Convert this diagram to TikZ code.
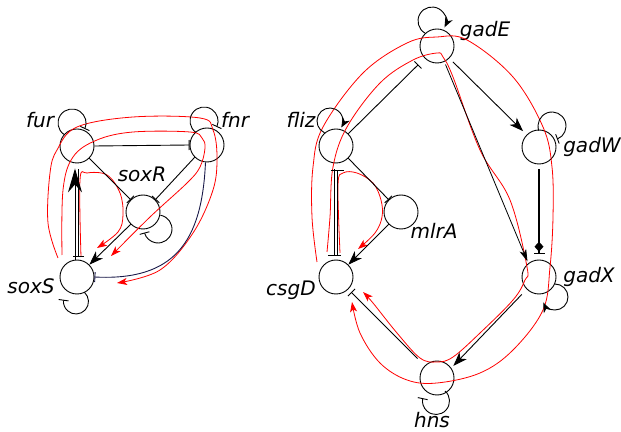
\documentclass[tikz,border=0pt]{standalone}
\usepackage{fontspec}
\setmainfont{DejaVu Sans}
\usetikzlibrary{arrows.meta}
\definecolor{navy}{RGB}{24,24,72}
\begin{document}
\begin{tikzpicture}[x=1pt,y=1pt,
  gene/.style={circle, draw, line width=0.9pt, minimum size=34pt, inner sep=0pt},
  lbl/.style={font=\fontsize{20}{24}\selectfont\itshape, inner sep=0pt, anchor=base},
  edge/.style={line width=0.9pt},
  act/.style={edge, -{Stealth[length=14pt,width=10pt,inset=4pt]}},
  thinact/.style={line width=0.8pt, -{Stealth[length=12pt,width=7pt,inset=3pt]}},
  loopact/.style={edge, -{Stealth[length=10pt,width=8pt,inset=3pt]}},
  rep/.style={edge, -{Bar[width=10pt,line width=0.9pt]}},
  hl/.style={red, line width=0.8pt, -{Stealth[length=10pt,width=7pt,inset=2.5pt]}},
]
\useasboundingbox (0,0) rectangle (621,431);

% ---------- genes ----------
\node[gene] (fur)  at (77,285)  {};
\node[gene] (fnr)  at (207,286) {};
\node[gene] (soxR) at (143,219) {};
\node[gene] (soxS) at (77,154)  {};
\node[gene] (gadE) at (437,385) {};
\node[gene] (fliz) at (336,285) {};
\node[gene] (gadW) at (539,284) {};
\node[gene] (mlrA) at (401,219) {};
\node[gene] (csgD) at (336,154) {};
\node[gene] (gadX) at (539,154) {};
\node[gene] (hns)  at (437,53)  {};

% ---------- labels ----------
\node[lbl] (lfur)  at (40,303)  {fur};
\node[lbl] (lfnr)  at (235,303) {fnr};
\node[lbl] (lsoxR) at (142,249) {soxR};
\node[lbl] (lsoxS) at (31,137)  {soxS};
\node[lbl] (lgadE) at (485,394) {gadE};
\node[lbl] (lfliz) at (301,303) {fliz};
\node[lbl] (lgadW) at (592,278) {gadW};
\node[lbl] (lmlrA) at (434,192) {mlrA};
\node[lbl] (lcsgD) at (291,135) {csgD};
\node[lbl] (lgadX) at (589,148) {gadX};
\node[lbl] (lhns)  at (432,4)   {hns};

% ---------- highlighted feedback loops ----------
\coordinate (a0) at (81,174);  \coordinate (a1) at (97,183);
\draw[hl] plot[smooth, tension=0.6] coordinates {(a0) (80,251) (87,258) (107,256) (120,238) (123,216) (118,199) (a1)};
\coordinate (b0) at (62,176);  \coordinate (b1) at (111,175);
\draw[hl] plot[smooth, tension=0.6] coordinates {(b0) (63,241) (73,274) (97,291) (133,299) (190,299) (202,293) (205,283) (200,264) (187,248) (150,214) (b1)};
\coordinate (c0) at (58,173);  \coordinate (c1) at (117,148);
\draw[hl] plot[smooth, tension=0.6] coordinates {(c0) (48,208) (50,258) (57,281) (77,304) (133,314) (200,313) (213,301) (217,274) (213,241) (193,198) (160,161) (c1)};

\coordinate (d0) at (340,178); \coordinate (d1) at (358,182);
\draw[hl] plot[smooth, tension=0.6] coordinates {(d0) (338,246) (343,258) (357,258) (373,248) (381,231) (382,214) (375,198) (d1)};
\coordinate (e0) at (327,179); \coordinate (e1) at (363,139);
\draw[hl] plot[smooth, tension=0.6] coordinates {(e0) (330,214) (333,264) (347,304) (380,348) (413,371) (437,378) (443,374) (453,354) (480,281) (510,231) (527,164) (525,151) (513,131) (480,98) (453,74) (437,69) (420,73) (397,98) (373,128) (e1)};
\coordinate (f0) at (317,169); \coordinate (f1) at (352,129);
\draw[hl] plot[smooth, tension=0.6] coordinates {(f0) (312,214) (313,264) (323,304) (363,358) (407,388) (437,394) (467,391) (513,354) (543,304) (552,264) (553,214) (550,164) (543,121) (513,81) (480,58) (437,48) (407,51) (380,68) (360,98) (f1)};

% ---------- self regulation ----------
\draw[rep] (fur)  ++(-5,23)  ++(235:14) arc[start angle=235, end angle=-25, radius=14];
\draw[rep] (fnr)  ++(-3,24)  ++(235:14) arc[start angle=235, end angle=-25, radius=14];
\draw[rep] (soxR) ++(15,-17) ++(80:14)  arc[start angle=80, end angle=-165, radius=14];
\draw[rep] (soxS) ++(-1,-24.5) ++(48:12.5) arc[start angle=48, end angle=-188, radius=12.5];
\draw[rep] (hns)  ++(-1,-23) ++(48:13.5) arc[start angle=48, end angle=-192, radius=13.5];
\draw[rep] (gadW) ++(13,21)  ++(200:14) arc[start angle=200, end angle=-69, radius=14];
\draw[loopact] (gadE) ++(-5,25) ++(240:14) arc[start angle=240, end angle=-27, radius=14];
\draw[loopact] (fliz) ++(-6,25) ++(245:13) arc[start angle=245, end angle=-30, radius=13];
\draw[loopact] (gadX) ++(16,-20) ++(90:13) arc[start angle=90, end angle=-155, radius=13];

% ---------- oxygen / redox module ----------
\draw[rep] (fur.east) -- (fnr.west);
\draw[rep] (fur.-45) -- (soxR.135);
\draw[rep] (fnr.225) -- (soxR.45);
\draw[act] (soxR.225) -- (soxS.45);
\draw[rep, navy] (fnr.-95) .. controls (202,190) and (175,150) .. (soxS.east);
\draw[edge, -{Stealth[length=24pt,width=14pt,inset=8pt]}, shorten >=5pt]
  ([xshift=-2pt]soxS.north) -- ([xshift=-2pt]fur.south);
\draw[rep, -{Bar[width=11pt,line width=0.9pt]}, shorten <=6pt, shorten >=3pt]
  ([xshift=1.5pt]fur.south) -- ([xshift=1.5pt]soxS.north);

% ---------- acid / biofilm module ----------
\draw[rep, shorten >=9pt] (fliz.45) -- (gadE.225);
\draw[act, shorten <=5pt, shorten >=5pt] (gadE.-45) -- (gadW.135);
\draw[thinact, shorten <=3pt, shorten >=2pt] (gadE.-65) -- (gadX.128);
\draw[line width=1.3pt, -{Diamond[length=10pt,width=9pt,sep=1pt] Bar[width=11pt,line width=0.9pt]},
  shorten <=5pt, shorten >=6pt] (gadW.south) -- (gadX.north);
\draw[act, shorten <=7pt, shorten >=3pt] (gadX.225) -- (hns.35);
\draw[rep, shorten <=10pt, shorten >=4pt] (hns.135) -- (csgD.-45);
\draw[rep] (fliz.-45) -- (mlrA.135);
\draw[act] (mlrA.225) -- (csgD.45);
\draw[rep, -{Bar[width=13pt,line width=0.9pt]}, shorten <=6pt, shorten >=4pt]
  ([xshift=-2pt]fliz.south) -- ([xshift=-2pt]csgD.north);
\draw[rep, -{Bar[width=13pt,line width=0.9pt]}, shorten <=4pt, shorten >=7pt]
  ([xshift=1pt]csgD.north) -- ([xshift=1pt]fliz.south);
\end{tikzpicture}
\end{document}
